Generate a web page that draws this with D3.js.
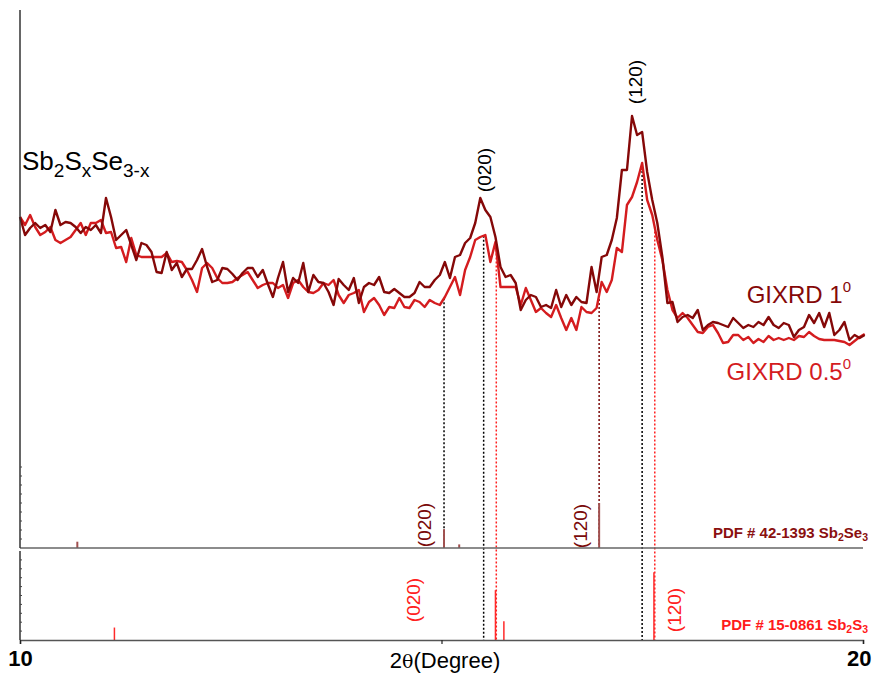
<!DOCTYPE html>
<html>
<head>
<meta charset="utf-8">
<script src="https://cdn.jsdelivr.net/npm/d3@7"></script>
<style>
  html, body { margin: 0; padding: 0; background: #fff; }
  svg { display: block; font-family: "Liberation Sans", Arial, sans-serif; }
</style>
</head>
<body>
<svg id="chart" width="873" height="673"></svg>
<script>
// Scan grid (degrees 2θ)
const twoThetaStart = 10;
const twoThetaStep = 0.06;

// GIXRD intensity (a.u.) at 1° incidence
const gixrd1 = [331,313,320,325,320,323,316,338,323,326,325,321,315,321,318,323,315,350,331,308,
  313,318,303,288,305,303,296,276,275,296,278,285,271,279,279,288,299,281,266,268,
  280,279,274,268,275,280,280,271,278,264,251,270,286,256,270,265,285,256,273,266,
  265,256,243,269,263,258,270,245,261,265,263,271,256,255,259,255,251,251,255,266,
  261,261,268,273,286,270,291,293,305,310,325,350,338,331,311,281,271,273,265,238,
  248,253,251,241,243,240,258,241,253,243,251,246,245,281,256,291,293,308,330,378,
  378,432,413,416,376,348,325,291,245,246,226,231,233,230,238,218,223,226,225,223,
  221,230,225,220,223,221,226,223,231,223,220,225,223,211,218,221,233,225,235,221,
  235,213,218,226,208,213,210,213];

// GIXRD intensity (a.u.) at 0.5° incidence
const gixrd05 = [331,323,333,321,313,316,321,308,305,308,311,318,325,313,325,325,328,315,316,300,
  301,286,310,293,291,291,291,291,291,295,286,287,286,278,268,256,280,285,280,270,
  265,265,266,270,273,276,268,260,263,265,265,260,263,250,265,268,261,256,255,258,
  265,263,268,253,245,253,255,258,236,246,250,243,233,241,240,250,241,240,248,246,
  241,248,245,243,251,261,271,253,278,291,308,311,313,286,306,261,261,261,261,243,
  260,248,236,240,235,231,243,230,218,230,218,241,236,235,240,266,256,268,300,296,
  343,351,366,385,348,333,308,288,258,238,230,235,230,223,216,215,221,223,215,205,
  206,213,213,208,211,205,209,206,212,208,210,208,210,208,212,211,216,212,209,208,
  208,208,207,206,203,207,211,214];

// Reference patterns: peak positions (2θ) and relative intensities
const sb2se3Pos = [10.68, 15.03, 15.21, 16.87];
const sb2se3Int = [7, 21, 4, 50];
const sb2s3Pos = [11.12, 15.64, 15.74, 17.52];
const sb2s3Int = [14, 56, 21, 76];

// Dotted guide lines dropped from the patterns
const guidePos    = [15.03, 15.50, 15.65, 16.87, 17.38, 17.53];
const guideColor  = ["#000", "#000", "#ff2020", "#7a0a0a", "#000", "#ff2020"];
const guideBottom = ["se", "s", "s", "se", "s", "s"];

const xTicks = [10, 15, 20];

const colDark = "#850808";
const colRed = "#d41c1f";

const svg = d3.select("#chart");

const x = d3.scaleLinear().domain([10, 20]).range([20, 863]);
const yMain = d3.scaleLinear().domain([0, 538]).range([548, 10]);
const ySe = d3.scaleLinear().domain([0, 100]).range([548, 458]);
const yS = d3.scaleLinear().domain([0, 100]).range([640, 551]);

const tt = i => twoThetaStart + i * twoThetaStep;

// interpolate 0.5° scan at an arbitrary 2θ
function redAt(pos) {
  const f = (pos - twoThetaStart) / twoThetaStep;
  const i = Math.floor(f), t = f - i;
  return gixrd05[i] * (1 - t) + gixrd05[i + 1] * t;
}

// guide lines
guidePos.forEach((p, k) => {
  svg.append("line")
    .attr("x1", x(p)).attr("x2", x(p))
    .attr("y1", yMain(redAt(p)))
    .attr("y2", guideBottom[k] === "se" ? ySe(0) : yS(0))
    .attr("stroke", guideColor[k])
    .attr("stroke-width", 1.5)
    .attr("stroke-dasharray", "2,2");
});

// stick patterns
svg.selectAll(".stickSe").data(sb2se3Pos).join("line")
  .attr("x1", d => x(d)).attr("x2", d => x(d))
  .attr("y1", ySe(0)).attr("y2", (d, i) => ySe(sb2se3Int[i]))
  .attr("stroke", "#a0504f").attr("stroke-width", 2);
svg.selectAll(".stickS").data(sb2s3Pos).join("line")
  .attr("x1", d => x(d)).attr("x2", d => x(d))
  .attr("y1", yS(0)).attr("y2", (d, i) => yS(sb2s3Int[i]))
  .attr("stroke", "#ff2a2a").attr("stroke-width", 1.5);

// scans
const line = d3.line().x((d, i) => x(tt(i))).y(d => yMain(d));
svg.append("path").datum(gixrd05).attr("d", line)
  .attr("fill", "none").attr("stroke", colRed).attr("stroke-width", 2.4).attr("stroke-linejoin", "round");
svg.append("path").datum(gixrd1).attr("d", line)
  .attr("fill", "none").attr("stroke", colDark).attr("stroke-width", 2.4).attr("stroke-linejoin", "round");

// baselines / axes
svg.append("line").attr("x1", x(10)).attr("x2", x(20)).attr("y1", ySe(0)).attr("y2", ySe(0))
  .attr("stroke", "#666").attr("stroke-width", 1.6);

const xAxis = d3.axisBottom(x).tickValues(xTicks).tickSize(4).tickPadding(6)
  .tickFormat(d => (d === 15 ? "" : d));
const gx = svg.append("g").attr("transform", `translate(0,${yS(0)})`).call(xAxis);
gx.select(".domain").attr("stroke", "#555").attr("stroke-width", 1.6);
gx.selectAll(".tick line").attr("stroke", "#222").attr("stroke-width", 1.2);
gx.selectAll(".tick text").attr("fill", "#000")
  .style("font-family", "'Liberation Sans', Arial, sans-serif")
  .style("font-size", "22px").style("font-weight", "bold");
// keep the right-hand label inside the frame
gx.selectAll(".tick text").filter(d => d === 20).attr("text-anchor", "end").attr("x", 8);

svg.append("line").attr("x1", x(10)).attr("x2", x(10)).attr("y1", yMain(538)).attr("y2", ySe(0))
  .attr("stroke", "#333").attr("stroke-width", 1.5);
svg.append("line").attr("x1", x(10)).attr("x2", x(10)).attr("y1", yS(100)).attr("y2", yS(0))
  .attr("stroke", "#333").attr("stroke-width", 1.5);

const minor = d3.range(10, 100, 10);
svg.selectAll(".tkSe").data(minor).join("line")
  .attr("x1", x(10)).attr("x2", x(10) + 2).attr("y1", d => ySe(d)).attr("y2", d => ySe(d))
  .attr("stroke", "#444").attr("stroke-width", 1);
svg.selectAll(".tkS").data(minor).join("line")
  .attr("x1", x(10)).attr("x2", x(10) + 2).attr("y1", d => yS(d)).attr("y2", d => yS(d))
  .attr("stroke", "#444").attr("stroke-width", 1);

// axis title
const xt = svg.append("text").attr("x", 445).attr("y", 668).attr("text-anchor", "middle")
  .attr("font-size", 22).attr("fill", "#000");
xt.append("tspan").text("2");
xt.append("tspan").attr("font-size", 19).attr("font-family", "'DejaVu Serif', serif").text("θ");
xt.append("tspan").text("(Degree)");

// sample label
const sl = svg.append("text").attr("x", 22).attr("y", 170).attr("font-size", 26).attr("fill", "#000");
sl.append("tspan").text("Sb");
sl.append("tspan").attr("font-size", 19).attr("dy", 7).text("2");
sl.append("tspan").attr("dy", -7).text("S");
sl.append("tspan").attr("font-size", 19).attr("dy", 7).text("x");
sl.append("tspan").attr("dy", -7).text("Se");
sl.append("tspan").attr("font-size", 19).attr("dy", 7).text("3-x");

// series labels
function degLabel(tx, ty, main, color) {
  const t = svg.append("text").attr("x", tx).attr("y", ty).attr("text-anchor", "end")
    .attr("font-size", 24).attr("fill", color);
  t.append("tspan").text(main);
  t.append("tspan").attr("font-size", 15).attr("dy", -11).text("0");
}
degLabel(851, 303, "GIXRD 1", colDark);
degLabel(851, 380, "GIXRD 0.5", colRed);

// Miller index labels (rotated)
function hkl(cx, cy, txt, color, size) {
  svg.append("text").attr("transform", `translate(${cx},${cy}) rotate(-90)`)
    .attr("text-anchor", "middle").attr("dominant-baseline", "central")
    .attr("font-size", size).attr("fill", color).text(txt);
}
hkl(484, 170, "(020)", "#000", 19);
hkl(635, 82, "(120)", "#000", 19);
hkl(424, 525, "(020)", "#7a0a0a", 19);
hkl(580, 526, "(120)", "#7a0a0a", 19);
hkl(413, 600, "(020)", "#ff2020", 19);
hkl(674, 610, "(120)", "#ff2020", 19);

// reference card labels
function pdf(ty, num, el2, el3, color) {
  const t = svg.append("text").attr("x", 868).attr("y", ty).attr("text-anchor", "end")
    .attr("font-size", 15).attr("font-weight", "bold").attr("fill", color);
  t.append("tspan").text(`PDF # ${num} Sb`);
  t.append("tspan").attr("font-size", 10.5).attr("dy", 3).text("2");
  t.append("tspan").attr("dy", -3).text(el2);
  t.append("tspan").attr("font-size", 10.5).attr("dy", 3).text(el3);
}
pdf(538, "42-1393", "Se", "3", "#8a1010");
pdf(630, "15-0861", "S", "3", "#ff1a1a");
</script>
</body>
</html>
